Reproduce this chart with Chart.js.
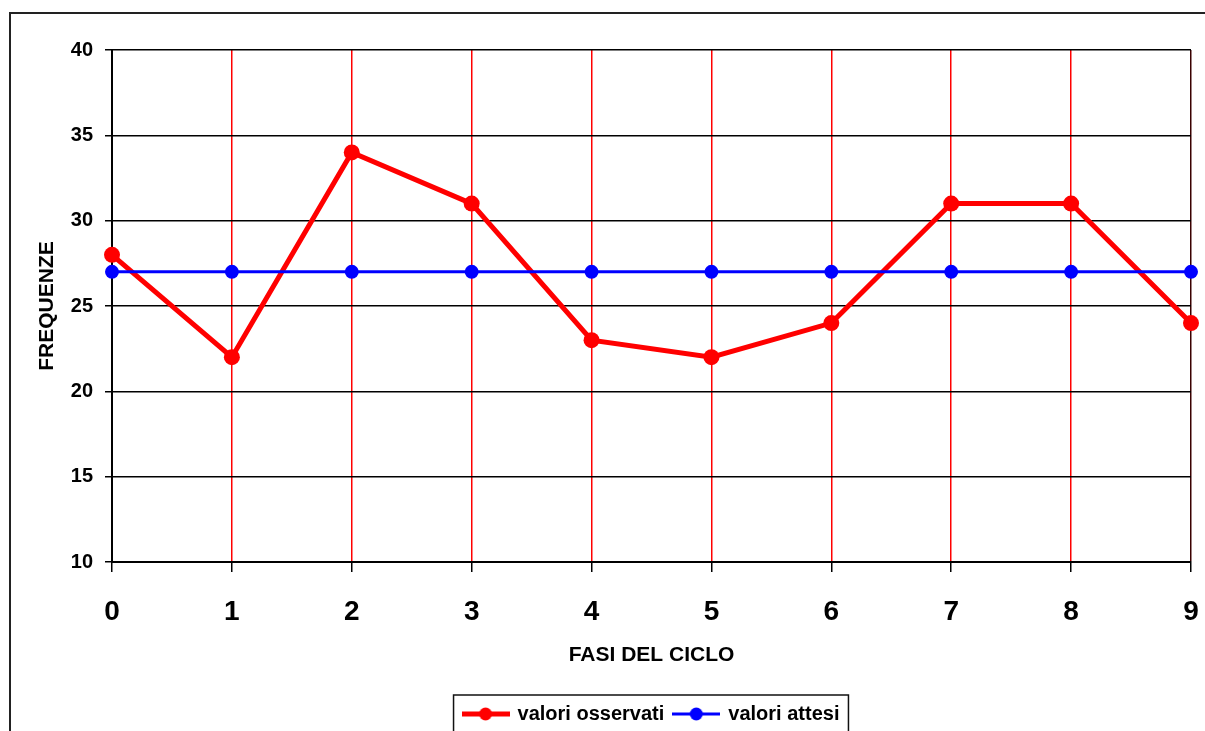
<!DOCTYPE html>
<html>
<head>
<meta charset="utf-8">
<script src="https://cdn.jsdelivr.net/npm/chart.js@4"></script>
<style>
  html, body { margin: 0; padding: 0; background: #fff; overflow: hidden; }
  #wrap { position: relative; width: 1205px; height: 734px; }
  canvas { display: block; }
</style>
</head>
<body>
<div id="wrap"><canvas id="c" width="1205" height="734"></canvas></div>
<script>
// ---- data ----
const categories = ['0', '1', '2', '3', '4', '5', '6', '7', '8', '9'];
const observedLabel = 'valori osservati';
const expectedLabel = 'valori attesi';
const observed = [28, 22, 34, 31, 23, 22, 24, 31, 31, 24];
const expected = [27, 27, 27, 27, 27, 27, 27, 27, 27, 27];
const yMin = 10;
const yMax = 40;
const yStep = 5;
const xTitle = 'FASI DEL CICLO';
const yTitle = 'FREQUENZE';

const FONT = '"Liberation Sans", Arial, sans-serif';

function makeMarker(color, lineW, radius) {
  const cv = document.createElement('canvas');
  cv.width = 48; cv.height = 20;
  const g = cv.getContext('2d');
  g.strokeStyle = color; g.lineWidth = lineW;
  g.beginPath(); g.moveTo(0, 10); g.lineTo(48, 10); g.stroke();
  g.fillStyle = color;
  g.beginPath(); g.arc(24, 10, radius, 0, Math.PI * 2); g.fill();
  return cv;
}
const markers = [makeMarker('#ff0000', 5, 6.5), makeMarker('#0000ff', 3, 6.5)];

const framePlugin = {
  id: 'frame',
  beforeDraw(chart) {
    const ctx = chart.ctx;
    ctx.save();
    ctx.fillStyle = '#ffffff';
    ctx.fillRect(0, 0, chart.width, chart.height);
    ctx.strokeStyle = '#222222';
    ctx.lineWidth = 2;
    ctx.strokeRect(10, 13, 1400, 1000);
    ctx.restore();
  },
  afterDraw(chart) {
    const lg = chart.legend;
    if (!lg || !lg.legendHitBoxes || !lg.legendHitBoxes.length) return;
    const hb = lg.legendHitBoxes;
    const left = Math.min(...hb.map(h => h.left)) - 10;
    const right = Math.max(...hb.map(h => h.left + h.width)) + 9;
    const top = lg.top + 1;
    const ctx = chart.ctx;
    ctx.save();
    ctx.strokeStyle = '#111111';
    ctx.lineWidth = 1.5;
    ctx.strokeRect(left, top, right - left, 200);
    ctx.restore();
  }
};

new Chart(document.getElementById('c'), {
  type: 'line',
  data: {
    labels: categories,
    datasets: [
      {
        label: observedLabel,
        data: observed,
        borderColor: '#ff0000',
        backgroundColor: '#ff0000',
        pointBackgroundColor: '#ff0000',
        pointBorderColor: '#ff0000',
        borderWidth: 5,
        pointRadius: 8,
        pointBorderWidth: 0,
        tension: 0,
        order: 1
      },
      {
        label: expectedLabel,
        data: expected,
        borderColor: '#0000ff',
        backgroundColor: '#0000ff',
        pointBackgroundColor: '#0000ff',
        pointBorderColor: '#0000ff',
        borderWidth: 3,
        pointRadius: 7,
        pointBorderWidth: 0,
        tension: 0,
        order: 0
      }
    ]
  },
  options: {
    responsive: false,
    animation: false,
    devicePixelRatio: 1,
    layout: { padding: { top: 50, right: 14, bottom: 0, left: 0 } },
    plugins: {
      tooltip: { enabled: false },
      legend: {
        display: true,
        position: 'bottom',
        fullSize: false,
        labels: {
          usePointStyle: true,
          pointStyleWidth: 44,
          padding: 10,
          color: '#000',
          font: { family: FONT, size: 20, weight: 'bold' },
          generateLabels(chart) {
            const items = Chart.defaults.plugins.legend.labels.generateLabels(chart);
            items.forEach(it => { it.pointStyle = markers[it.datasetIndex]; });
            items.sort((a, b) => a.datasetIndex - b.datasetIndex);
            return items;
          }
        }
      }
    },
    scales: {
      x: {
        type: 'category',
        offset: false,
        afterFit(scale) { scale.height = 132; },
        grid: {
          display: true,
          drawOnChartArea: true,
          drawTicks: true,
          tickLength: 10,
          tickColor: '#000',
          tickWidth: 1.5,
          lineWidth: 1.5,
          color(ctx) {
            if (ctx.index === 0) return '#000';
            if (ctx.index === categories.length - 1) return '#3a0000';
            return '#ff0000';
          }
        },
        border: { display: true, color: '#000', width: 2 },
        ticks: {
          color: '#000',
          padding: 3,
          maxRotation: 0,
          autoSkip: false,
          font: { family: FONT, size: 28, weight: 'bold', lineHeight: 2.63 }
        },
        title: {
          display: true,
          text: xTitle,
          color: '#000',
          padding: { top: 0, bottom: 26 },
          font: { family: FONT, size: 21, weight: 'bold' }
        }
      },
      y: {
        min: yMin,
        max: yMax,
        afterFit(scale) { scale.width = 112; },
        grid: {
          color: '#000',
          lineWidth: 1.5,
          tickLength: 7,
          tickColor: '#000',
          tickWidth: 1.5
        },
        border: { display: true, color: '#000', width: 2 },
        ticks: {
          stepSize: yStep,
          color: '#000',
          padding: 12,
          font: { family: FONT, size: 20, weight: 'bold' }
        },
        title: {
          display: true,
          text: yTitle,
          color: '#000',
          padding: { top: 35, bottom: 0 },
          font: { family: FONT, size: 21, weight: 'bold' }
        }
      }
    }
  },
  plugins: [framePlugin]
});
</script>
</body>
</html>
